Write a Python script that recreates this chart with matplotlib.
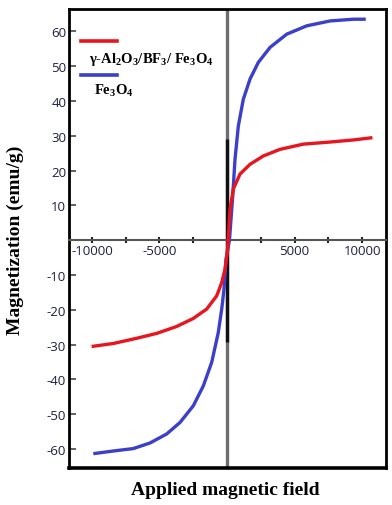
import matplotlib
matplotlib.use('Agg')
import matplotlib.pyplot as plt
import numpy as np

plt.rcParams['axes.unicode_minus'] = False
plt.rcParams['mathtext.fontset'] = 'custom'
plt.rcParams['mathtext.rm'] = 'Liberation Serif:bold'
plt.rcParams['mathtext.it'] = 'Liberation Serif:bold'

# applied field (Oe) and magnetization (emu/g)
field_composite = [-9904, -8422, -6689, -5207, -3726, -2496, -1504, -763, -393, -148, 20,
                   100, 222, 467, 963, 1704, 2689, 3926, 5652, 7630, 9355, 10644]
mag_composite = [-30.5, -29.7, -28.2, -26.8, -24.8, -22.5, -19.8, -16.0, -12.2, -8.3, -3.5,
                 1.0, 8.9, 14.7, 19.0, 21.8, 24.2, 26.1, 27.6, 28.2, 28.8, 29.4]

field_fe3o4 = [-9778, -8422, -6941, -5704, -4467, -3481, -2496, -1755, -1133, -644, -393,
               -222, -74, 180, 422, 593, 837, 1207, 1704, 2318, 3185, 4422, 5904, 7630,
               9355, 10148]
mag_fe3o4 = [-61.3, -60.6, -59.9, -58.3, -55.7, -52.4, -47.6, -41.9, -35.1, -26.5, -19.8,
             -14.1, -5.5, 0.0, 12.7, 23.3, 32.8, 40.5, 46.3, 51.1, 55.4, 59.2, 61.6, 63.0,
             63.5, 63.5]

y_ticks = [-60, -50, -40, -30, -20, -10, 10, 20, 30, 40, 50, 60]
x_ticks = [-10000, -5000, 5000, 10000]
x_minor = [-7500, -2500, 2500, 7500]

label_composite = r'$\gamma$-Al$_2$O$_3$/BF$_3$/ Fe$_3$O$_4$'
label_fe3o4 = r'Fe$_3$O$_4$'

fig = plt.figure(figsize=(3.92, 5.06), dpi=100)
ax = fig.add_axes([0.176, 0.073, 0.809, 0.907])

ax.plot(field_composite, mag_composite, color='#e8151f', lw=2.4, zorder=4,
        solid_joinstyle='round')
ax.plot(field_fe3o4, mag_fe3o4, color='#3b3fca', lw=2.4, zorder=3,
        solid_joinstyle='round')

ax.set_xlim(-11700, 11780)
ax.set_ylim(-65.5, 66.4)

# centre lines
ax.axvline(0, color='#6e6e6e', lw=2.4, zorder=2)
ax.vlines(0, -29.3, 29, color='#111111', lw=2.4, zorder=2)

for s in ['left', 'top', 'right']:
    ax.spines[s].set_linewidth(2.0)
    ax.spines[s].set_color('black')
ax.spines['bottom'].set_position(('data', 0))
ax.spines['bottom'].set_color('#555555')
ax.spines['bottom'].set_linewidth(1.5)
ax.plot([0, 1], [0, 0], transform=ax.transAxes, color='black', lw=2.6,
        clip_on=False, zorder=5)

tick_font = dict(family='Open Sans', size=9.5, color='#1f1f3f')
ax.set_yticks(y_ticks)
ax.set_yticklabels([str(v) for v in y_ticks], **tick_font)
ax.tick_params(axis='y', direction='in', length=5, width=1.3, color='#555555', pad=2)

ax.set_xticks(x_ticks)
ax.set_xticklabels([str(v) for v in x_ticks], **tick_font)
ax.set_xticks(x_minor, minor=True)
ax.tick_params(axis='x', which='both', direction='inout', length=4, width=1.5,
               color='#222222', pad=1)

# legend drawn as in the figure: line above its text
ax.plot([0.038, 0.151], [0.930, 0.930], transform=ax.transAxes, color='#e8151f', lw=2.6)
ax.text(0.063, 0.893, label_composite, transform=ax.transAxes, fontsize=10.5,
        family='Liberation Serif', fontweight='bold', va='center', ha='left')
ax.plot([0.038, 0.151], [0.856, 0.856], transform=ax.transAxes, color='#3b3fca', lw=2.6)
ax.text(0.079, 0.824, label_fe3o4, transform=ax.transAxes, fontsize=10.5,
        family='Liberation Serif', fontweight='bold', va='center', ha='left')

fig.text(0.038, 0.526, 'Magnetization (emu/g)', rotation=90, ha='center', va='center',
         family='Liberation Serif', fontweight='bold', fontsize=14)
fig.text(0.575, 0.03, 'Applied magnetic field', ha='center', va='center',
         family='Liberation Serif', fontweight='bold', fontsize=14)

fig.savefig('out.png', dpi=100)
